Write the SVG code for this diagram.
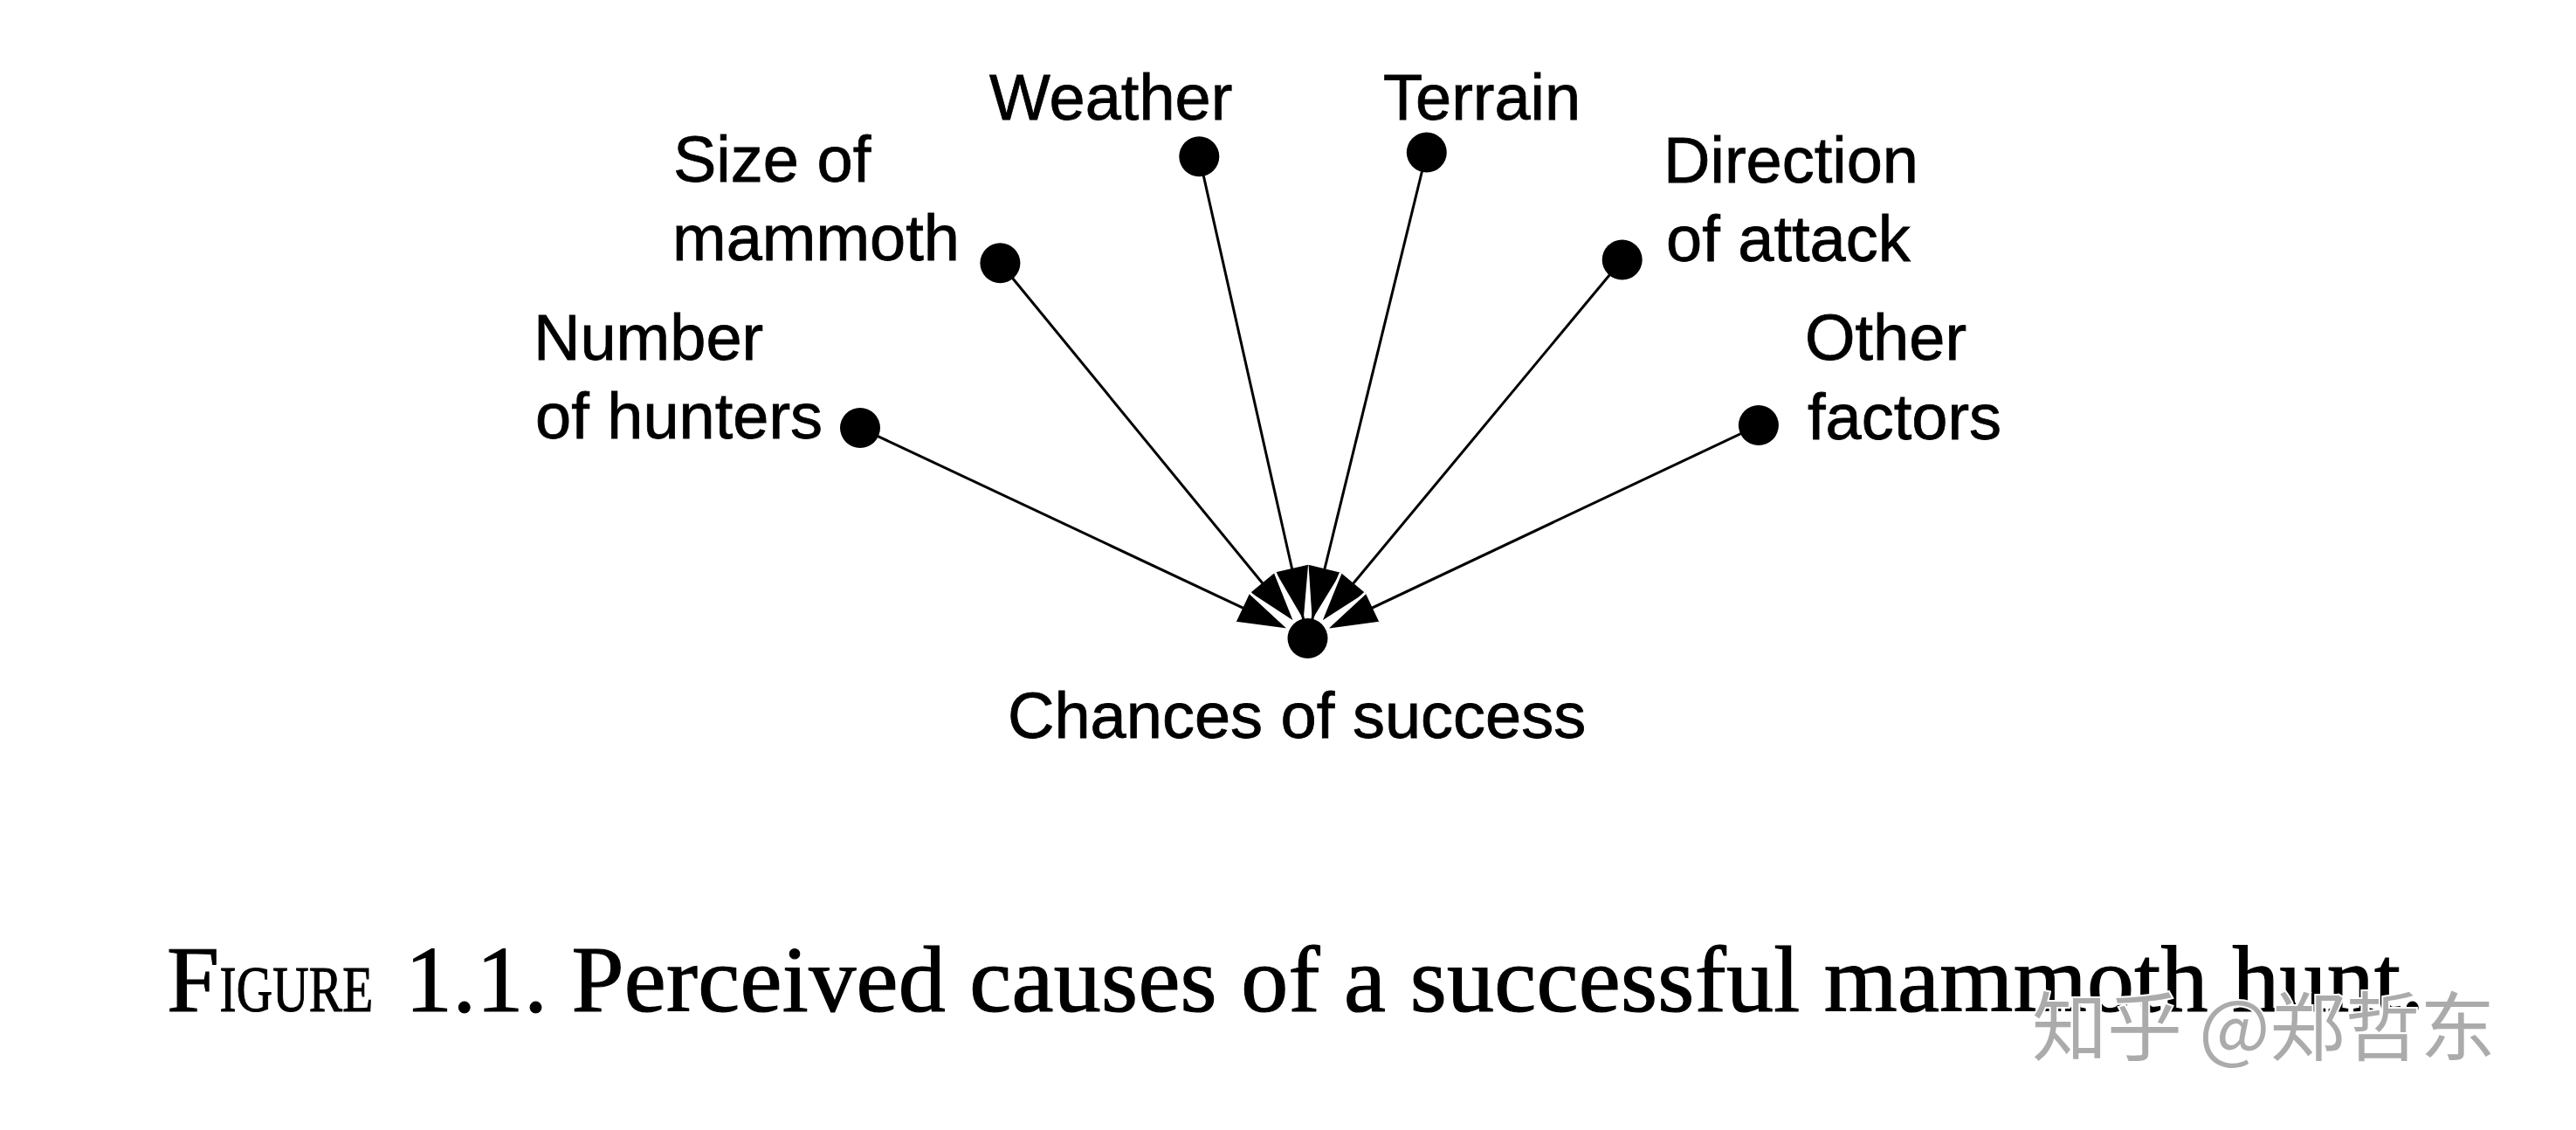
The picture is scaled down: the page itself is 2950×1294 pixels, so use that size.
<svg xmlns="http://www.w3.org/2000/svg" width="2950" height="1294" viewBox="0 0 2950 1294">
<style>
  .lbl { font-family: "Liberation Sans", Arial, sans-serif; font-size: 74px; fill: #000; stroke: #000; stroke-width: 0.8; }
  .dot { fill: #000; }
  .conn { stroke: #000; stroke-width: 3; fill: none; }
  .cap { font-family: "Liberation Serif", "Times New Roman", serif; font-size: 108px; fill: #000; stroke: #000; stroke-width: 1.2; letter-spacing: 0.3px; }
  .wm { font-family: "Noto Sans CJK SC", sans-serif; font-size: 86px; fill: #ababab; stroke: #ffffff; stroke-width: 4; paint-order: stroke; }
</style>
<defs>
  <marker id="ahEdge" markerUnits="userSpaceOnUse" orient="auto" refX="0" refY="0" markerWidth="1" markerHeight="1" overflow="visible">
    <path d="M0,0 L-60,-19 L-60,19 Z" fill="#000"/>
    <path d="M-60,-19 L0,0 L-60,19" fill="none" stroke="#fff" stroke-width="3" stroke-linejoin="round"/>
  </marker>
  <marker id="ahPlain" markerUnits="userSpaceOnUse" orient="auto" refX="0" refY="0" markerWidth="1" markerHeight="1" overflow="visible">
    <path d="M0,0 L-60,-19 L-60,19 Z" fill="#000"/>
  </marker>
</defs>
<rect width="2950" height="1294" fill="#fff"/>

<g id="connectors">
  <line class="conn" x1="1373.3" y1="179.2" x2="1492.7" y2="709.5" marker-end="url(#ahPlain)"/>
  <line class="conn" x1="1633.8" y1="174.5" x2="1502.7" y2="709.6" marker-end="url(#ahPlain)"/>
  <line class="conn" x1="1145.4" y1="301.2" x2="1483.6" y2="714.0" marker-end="url(#ahEdge)"/>
  <line class="conn" x1="1857.7" y1="297.5" x2="1511.6" y2="714.1" marker-end="url(#ahEdge)"/>
  <line class="conn" x1="985" y1="490" x2="1477.6" y2="721.6" marker-end="url(#ahEdge)"/>
  <line class="conn" x1="2013.9" y1="487" x2="1517.4" y2="721.6" marker-end="url(#ahEdge)"/>
</g>

<g id="node-number">
  <circle class="dot" cx="985" cy="490" r="23"/>
  <text class="lbl" x="611" y="412">Number</text>
  <text class="lbl" x="613" y="502">of hunters</text>
</g>
<g id="node-size">
  <circle class="dot" cx="1145.4" cy="301.2" r="23"/>
  <text class="lbl" x="771" y="208">Size of</text>
  <text class="lbl" x="770" y="298">mammoth</text>
</g>
<g id="node-weather">
  <circle class="dot" cx="1373.3" cy="179.2" r="23"/>
  <text class="lbl" x="1133" y="137">Weather</text>
</g>
<g id="node-terrain">
  <circle class="dot" cx="1633.8" cy="174.5" r="23"/>
  <text class="lbl" x="1584" y="137">Terrain</text>
</g>
<g id="node-direction">
  <circle class="dot" cx="1857.7" cy="297.5" r="23"/>
  <text class="lbl" x="1905" y="209">Direction</text>
  <text class="lbl" x="1908" y="299">of attack</text>
</g>
<g id="node-other">
  <circle class="dot" cx="2013.9" cy="487" r="23"/>
  <text class="lbl" x="2067" y="412">Other</text>
  <text class="lbl" x="2070" y="503">factors</text>
</g>
<g id="node-chances">
  <circle class="dot" cx="1497.5" cy="731" r="23"/>
  <text class="lbl" x="1154" y="845">Chances of success</text>
</g>

<g id="caption">
  <text class="cap" x="191" y="1158">F<tspan font-size="75" textLength="176" lengthAdjust="spacingAndGlyphs">IGURE</tspan><tspan x="464">1.1. Perceived causes of a successful mammoth hunt.</tspan></text>
</g>

<g id="watermark">
  <text class="wm" x="2327" y="1208">知乎 @郑哲东</text>
</g>
</svg>
